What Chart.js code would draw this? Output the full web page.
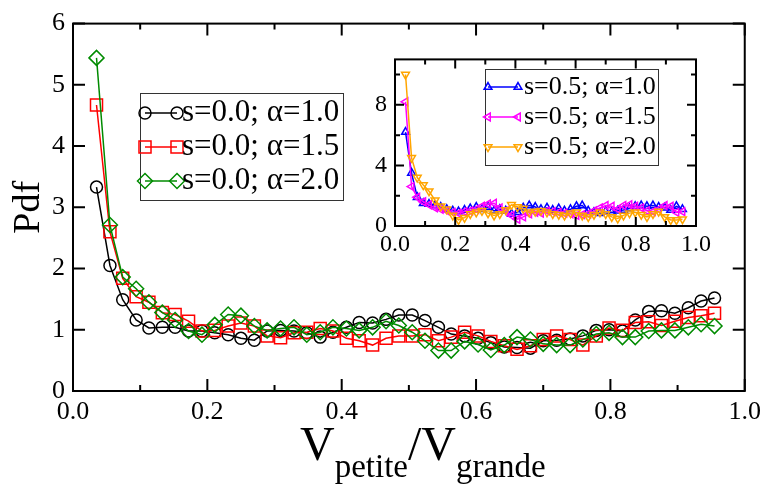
<!DOCTYPE html>
<html>
<head>
<meta charset="utf-8">
<script src="https://cdn.jsdelivr.net/npm/chart.js"></script>
<style>
  html, body { margin: 0; padding: 0; background: #fff; }
  #wrap { position: relative; width: 767px; height: 486px; overflow: hidden; }
  #main { position: absolute; left: 0; top: 0; }
  #inset { position: absolute; left: 355px; top: 37px; }
  #xtitle {
    position: absolute; left: 300px; top: 420px;
    font-family: 'Liberation Serif', 'Times New Roman', serif; font-size: 48px; line-height: 48px;
    white-space: nowrap; color: #000;
  }
  #xtitle sub { font-size: 33px; vertical-align: -17px; line-height: 0; }
</style>
</head>
<body>
<div id="wrap">
  <canvas id="main" width="767" height="486"></canvas>
  <canvas id="inset" width="360" height="230"></canvas>
  <div id="xtitle">V<sub>petite</sub>/V<sub>grande</sub></div>
</div>
<script>
// abscisses communes (centres des classes)
const xs = [0.035, 0.055, 0.074, 0.094, 0.113, 0.133, 0.152, 0.172, 0.192, 0.211,
  0.231, 0.250, 0.270, 0.289, 0.309, 0.329, 0.348, 0.368, 0.387, 0.407,
  0.426, 0.446, 0.466, 0.485, 0.505, 0.524, 0.544, 0.563, 0.583, 0.603,
  0.622, 0.642, 0.661, 0.681, 0.700, 0.720, 0.740, 0.759, 0.779, 0.798,
  0.818, 0.837, 0.857, 0.876, 0.896, 0.916, 0.935, 0.955];

// s = 0.0
const s0a10 = [3.33, 2.05, 1.49, 1.16, 1.03, 1.04, 1.04, 0.98, 0.98, 0.95, 0.92, 0.86, 0.83, 0.98, 0.99, 0.98,
  0.95, 0.88, 0.96, 1.04, 1.12, 1.11, 1.17, 1.24, 1.24, 1.15, 1.04, 0.93, 0.90, 0.86, 0.79, 0.72,
  0.71, 0.70, 0.82, 0.83, 0.85, 0.90, 0.99, 1.00, 0.98, 1.16, 1.30, 1.31, 1.27, 1.36, 1.47, 1.52];
const s0a15 = [4.67, 2.60, 1.84, 1.54, 1.45, 1.28, 1.25, 1.14, 0.98, 0.99, 1.06, 1.11, 1.06, 0.90, 0.87, 0.95,
  0.96, 1.02, 0.98, 0.86, 0.82, 0.75, 0.86, 0.90, 0.90, 0.92, 0.82, 0.88, 0.96, 0.90, 0.81, 0.74,
  0.68, 0.74, 0.84, 0.90, 0.84, 0.75, 0.90, 1.03, 0.99, 1.12, 1.13, 1.07, 1.14, 1.20, 1.23, 1.27];
const s0a20 = [5.44, 2.71, 1.86, 1.67, 1.45, 1.28, 1.16, 0.98, 0.92, 1.08, 1.25, 1.23, 1.06, 0.99, 1.02, 1.04,
  0.92, 0.96, 1.04, 1.02, 0.99, 1.04, 1.14, 1.07, 0.96, 0.82, 0.66, 0.66, 0.81, 0.76, 0.67, 0.75,
  0.88, 0.84, 0.77, 0.75, 0.75, 0.84, 0.93, 0.95, 0.88, 0.88, 0.98, 0.99, 0.99, 1.04, 1.09, 1.06];

// s = 0.5 (encart)
const s5a10 = [6.2, 3.5, 1.9, 1.5, 1.45, 1.35, 1.25, 1.1, 1.0, 0.95, 1.05, 1.15, 1.25, 1.1, 1.25, 1.0,
  1.1, 1.0, 0.8, 0.9, 1.2, 1.35, 1.25, 1.1, 1.2, 1.05, 1.15, 1.0, 1.1, 1.3, 1.35, 1.0,
  0.9, 0.85, 0.95, 0.9, 1.0, 1.05, 1.15, 1.3, 1.35, 1.3, 1.35, 1.25, 1.2, 1.05, 1.3, 1.1];
const s5a15 = [8.2, 2.6, 1.9, 1.6, 1.4, 1.2, 1.1, 1.0, 0.9, 0.85, 0.95, 1.0, 1.1, 1.3, 1.45, 1.5,
  1.2, 1.0, 0.7, 0.45, 0.6, 0.8, 0.9, 0.85, 1.0, 0.95, 0.9, 0.85, 0.8, 0.7, 0.75, 0.8,
  1.0, 1.2, 1.35, 1.3, 1.1, 1.35, 1.4, 1.3, 1.2, 1.0, 0.95, 1.1, 1.35, 1.3, 0.9, 0.95];
const s5a20 = [10.0, 4.5, 3.2, 2.7, 2.3, 1.7, 1.3, 1.1, 0.7, 0.4, 0.55, 0.8, 0.9, 1.0, 0.85, 0.7,
  0.8, 1.05, 1.4, 1.25, 1.15, 0.9, 0.95, 1.0, 0.9, 0.8, 0.75, 0.7, 0.85, 0.9, 0.7, 0.6,
  0.75, 0.9, 0.8, 0.6, 0.5, 0.7, 0.85, 0.9, 0.75, 0.6, 0.8, 0.95, 0.6, 0.4, 0.4, 0.45];

const FONT = "'Liberation Serif', 'Times New Roman', serif";

function serie(label, ys, color, style, radius, rotation, order) {
  return {
    label: label,
    data: xs.map((x, i) => ({ x: x, y: ys[i] })),
    borderColor: color,
    borderWidth: 1.5,
    pointStyle: style,
    pointRadius: radius,
    pointRotation: rotation,
    pointBorderColor: color,
    pointBackgroundColor: 'rgba(0,0,0,0)',
    pointBorderWidth: 1.5,
    tension: 0,
    order: order
  };
}

// cadre + graduations vers l'intérieur sur les 4 côtés
const cadre = {
  id: 'cadre',
  afterDraw(chart, args, opts) {
    const { ctx, chartArea: a, scales } = chart;
    ctx.save();
    ctx.strokeStyle = '#000';
    ctx.lineWidth = opts.lw;
    ctx.beginPath();
    scales.x.ticks.forEach(t => {
      const px = scales.x.getPixelForValue(t.value);
      const len = t.label !== '' ? opts.major : opts.minor;
      ctx.moveTo(px, a.bottom); ctx.lineTo(px, a.bottom - len);
      ctx.moveTo(px, a.top); ctx.lineTo(px, a.top + len);
    });
    scales.y.ticks.forEach(t => {
      const py = scales.y.getPixelForValue(t.value);
      const len = t.label !== '' ? opts.major : opts.minor;
      ctx.moveTo(a.left, py); ctx.lineTo(a.left + len, py);
      ctx.moveTo(a.right, py); ctx.lineTo(a.right - len, py);
    });
    ctx.stroke();
    ctx.strokeRect(a.left, a.top, a.right - a.left, a.bottom - a.top);
    ctx.restore();
  }
};

// légende encadrée style xmgrace
const legendeBoite = {
  id: 'legendeBoite',
  afterDraw(chart, args, opts) {
    const ctx = chart.ctx;
    const [x0, y0, x1, y1] = opts.box;
    ctx.save();
    ctx.fillStyle = '#fff';
    ctx.fillRect(x0, y0, x1 - x0, y1 - y0);
    ctx.strokeStyle = '#333';
    ctx.lineWidth = 1;
    ctx.strokeRect(x0 + 0.5, y0 + 0.5, x1 - x0, y1 - y0);
    ctx.font = opts.font;
    ctx.textBaseline = 'middle';
    ctx.textAlign = 'left';
    chart.data.datasets.forEach((ds, i) => {
      const yy = opts.rows[i];
      ctx.strokeStyle = ds.borderColor;
      ctx.lineWidth = ds.borderWidth;
      ctx.beginPath();
      ctx.moveTo(opts.sym[0], yy);
      ctx.lineTo(opts.sym[1], yy);
      ctx.stroke();
      const st = { pointStyle: ds.pointStyle, radius: ds.pointRadius, rotation: ds.pointRotation, borderWidth: ds.pointBorderWidth };
      ctx.fillStyle = 'rgba(0,0,0,0)';
      ctx.lineWidth = ds.pointBorderWidth;
      Chart.helpers.drawPoint(ctx, st, opts.sym[0], yy);
      Chart.helpers.drawPoint(ctx, st, opts.sym[1], yy);
      ctx.fillStyle = '#000';
      ctx.fillText(ds.label, opts.textX, yy);
    });
    ctx.restore();
  }
};

function axeX(size, major, h, pad) {
  return {
    type: 'linear', min: 0, max: 1,
    grid: { display: false, drawTicks: false },
    border: { display: false },
    ticks: {
      stepSize: 0.1, padding: pad, color: '#000', maxRotation: 0, autoSkip: false,
      font: { family: FONT, size: size },
      callback: v => (Math.round(v * 10) % major === 0 ? v.toFixed(1) : '')
    },
    afterFit: s => { s.height = h; }
  };
}

new Chart(document.getElementById('main'), {
  type: 'line',
  data: {
    datasets: [
      serie('s=0.0; \u03b1=1.0', s0a10, '#000000', 'circle', 6, 0, 3),
      serie('s=0.0; \u03b1=1.5', s0a15, '#ff0000', 'rect', 8.5, 0, 2),
      serie('s=0.0; \u03b1=2.0', s0a20, 'rgb(0,139,0)', 'rectRot', 7.5, 0, 1)
    ]
  },
  options: {
    responsive: false,
    animation: false,
    layout: { padding: { top: 16, right: 20, left: 0, bottom: 0 } },
    scales: {
      x: axeX(26, 2, 95, 6),
      y: {
        type: 'linear', min: 0, max: 6,
        grid: { display: false, drawTicks: false },
        border: { display: false },
        ticks: { stepSize: 1, padding: 8, color: '#000', font: { family: FONT, size: 26 } },
        title: { display: true, text: 'Pdf', color: '#000', padding: { top: 6, bottom: 0 }, font: { family: FONT, size: 38 } },
        afterFit: s => { s.width = 73; }
      }
    },
    plugins: {
      legend: { display: false },
      tooltip: { enabled: false },
      cadre: { lw: 2, major: 12, minor: 6 },
      legendeBoite: {
        box: [140, 93, 343, 200],
        rows: [113, 147, 181],
        sym: [145, 177],
        textX: 182,
        font: '31px ' + FONT
      }
    }
  },
  plugins: [cadre, legendeBoite]
});

new Chart(document.getElementById('inset'), {
  type: 'line',
  data: {
    datasets: [
      serie('s=0.5; \u03b1=1.0', s5a10, '#0000ff', 'triangle', 4.5, 0, 3),
      serie('s=0.5; \u03b1=1.5', s5a15, '#ff00ff', 'triangle', 4.5, 270, 2),
      serie('s=0.5; \u03b1=2.0', s5a20, '#ffa500', 'triangle', 4.5, 180, 1)
    ]
  },
  options: {
    responsive: false,
    animation: false,
    layout: { padding: { top: 10, right: 13, left: 0, bottom: 0 } },
    scales: {
      x: axeX(24, 2, 41, 4),
      y: {
        type: 'linear', min: 0, max: 11,
        grid: { display: false, drawTicks: false },
        border: { display: false },
        ticks: {
          stepSize: 2, includeBounds: false, padding: 8, color: '#000',
          font: { family: FONT, size: 24 },
          callback: v => (v % 4 === 0 ? String(v) : '')
        },
        afterFit: s => { s.width = 40; }
      }
    },
    plugins: {
      legend: { display: false },
      tooltip: { enabled: false },
      cadre: { lw: 2, major: 9, minor: 5 },
      legendeBoite: {
        box: [130, 32, 303, 128],
        rows: [50, 80, 110],
        sym: [133, 163],
        textX: 169,
        font: '26px ' + FONT
      }
    }
  },
  plugins: [cadre, legendeBoite]
});
</script>
</body>
</html>
